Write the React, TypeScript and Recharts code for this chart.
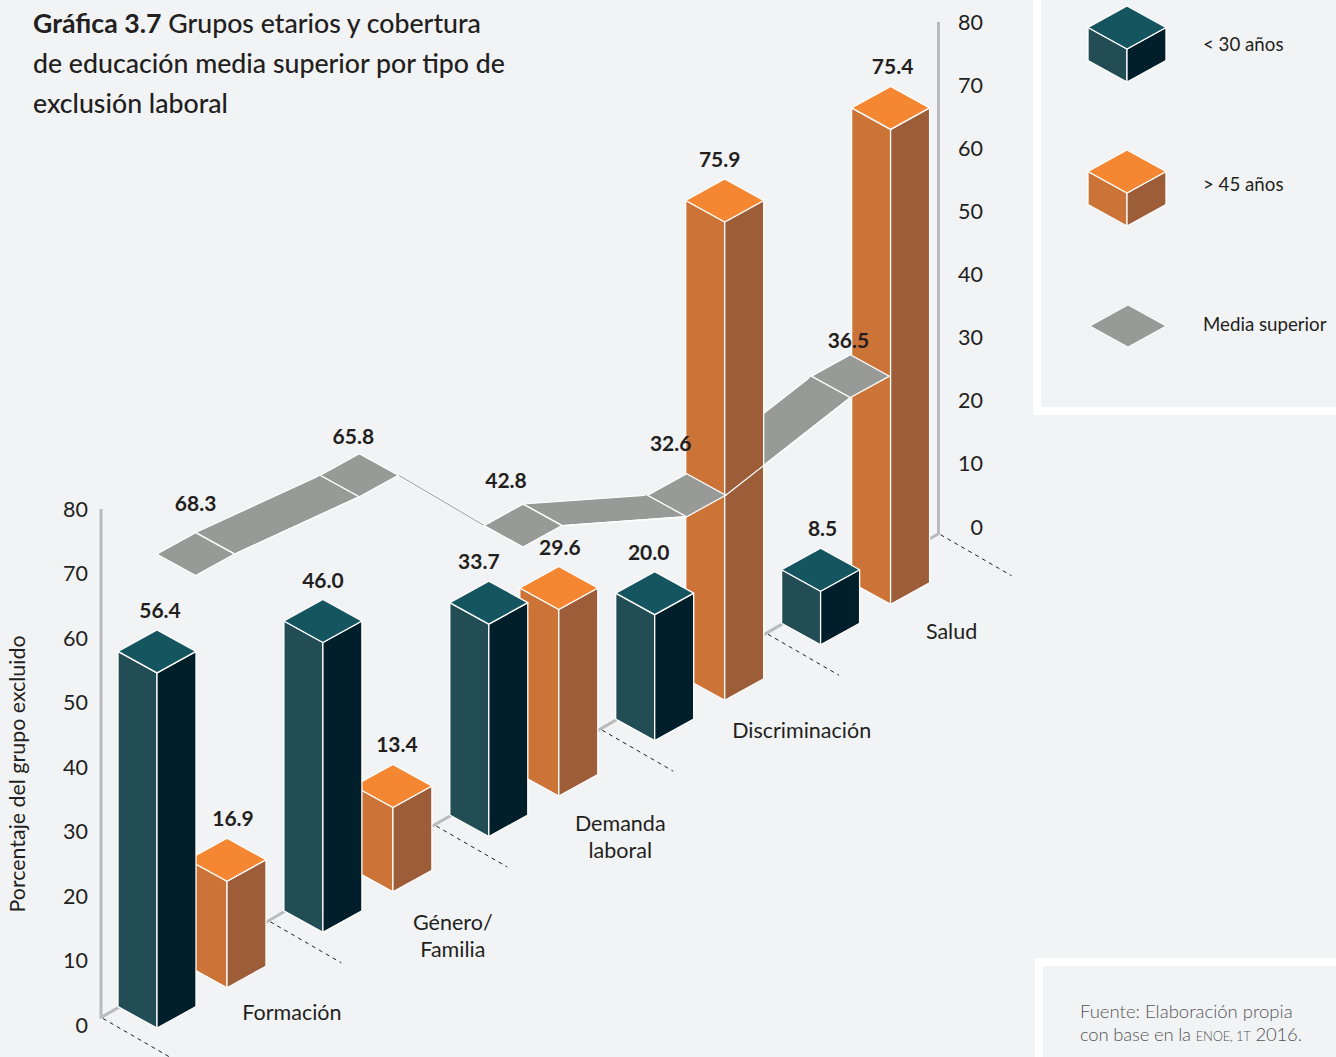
import React from "react";
import { ComposedChart, Bar, Line, XAxis, YAxis, ReferenceLine } from "recharts";

// values
const categories = ["Formación", "Género/ Familia", "Demanda laboral", "Discriminación", "Salud"];
const menores30 = [56.4, 46.0, 33.7, 20.0, 8.5];
const mayores45 = [16.9, 13.4, 29.6, 75.9, 75.4];
const mediaSuperior = [68.3, 65.8, 42.8, 32.6, 36.5];
const axisTicks = [0, 10, 20, 30, 40, 50, 60, 70, 80];

const chartData = categories.map((categoria, i) => ({
    categoria,
    menores30: menores30[i],
    mayores45: mayores45[i],
    mediaSuperior: mediaSuperior[i],
}));

const WIDTH = 1336;
const HEIGHT = 1057;
const PLOT_TOP = 22;
const PLOT_BOTTOM = 1025;
const PLOT_LEFT = 101;
const PLOT_RIGHT = 938.5;

// tile axis: band width once the padding is taken off
const TILE_PAD_LEFT = 12.75;
const TILE_PAD_RIGHT = 6.25;
const TILE_STEP = (PLOT_RIGHT - PLOT_LEFT - TILE_PAD_LEFT - TILE_PAD_RIGHT) / categories.length;

// isometric projection: the floor climbs to the right
const SLOPE = 0.5777;
const HALF_W = 39;
const RISE = 21.5;
const floorAt = (x: number) => 1027 - SLOPE * (x - 159);
const backAt = (x: number) => floorAt(x) - 2 * RISE;

const TEXT = "#231f20";
const FONT = "Lato, sans-serif";
const TEAL = { top: "#14555f", left: "#234d54", right: "#001f2a" };
const ORANGE = { top: "#f58733", left: "#cc7337", right: "#9d5d38" };
const GRAY = "#989a98";
const AXIS_GRAY = "#b9babb";

// small hand placement of the texts, as in the original layout
const tealLabelDx = [3, 0, -10, -6, 2];
const orangeLabelDx = [6, 4, 1, -5, 2];
const grayLabelDx = [0, -6, -17, -16, -2];
const grayLabelDy = [-8, 4, -2, -9, 7];
const tickLabelDx = [100, 95, 96.5, 112, 96];
const tickLabelDy = [63, 66, 63, 75, 62.5];

const pts = (list: number[][]) => list.map((p) => p.join(",")).join(" ");

type Faces = { top: string; left: string; right: string };

// one box: fx is the front edge, topY / bottomY its two ends
function Cube({ fx, topY, bottomY, colors }: { fx: number; topY: number; bottomY: number; colors: Faces }) {
    const line = { stroke: "#fff", strokeWidth: 1.3, strokeLinejoin: "round" as const };
    return (
        <g>
            <polygon points={pts([[fx - HALF_W, topY - RISE], [fx, topY], [fx, bottomY], [fx - HALF_W, bottomY - RISE]])} fill={colors.left} {...line} />
            <polygon points={pts([[fx + HALF_W, topY - RISE], [fx, topY], [fx, bottomY], [fx + HALF_W, bottomY - RISE]])} fill={colors.right} {...line} />
            <polygon points={pts([[fx, topY], [fx + HALF_W, topY - RISE], [fx, topY - 2 * RISE], [fx - HALF_W, topY - RISE]])} fill={colors.top} {...line} />
        </g>
    );
}

const cubeShape = (colors: Faces, dx: number, labelDx: number[]) => (props: any) => {
    const { x, width, height, value, index } = props;
    const fx = x + width / 2 + dx;
    const bottomY = floorAt(fx);
    const topY = bottomY - height;
    return (
        <g>
            <Cube fx={fx} topY={topY} bottomY={bottomY} colors={colors} />
            <text x={fx + labelDx[index]} y={topY - 2 * RISE - 12} textAnchor="middle" fontFamily={FONT} fontWeight={700} fontSize={21} fill={TEXT}>
                {Number(value).toFixed(1)}
            </text>
        </g>
    );
};

const tealShape = cubeShape(TEAL, -35, tealLabelDx);
const orangeShape = cubeShape(ORANGE, 35, orangeLabelDx);

// corners of the flat tile for a point of the gray series
const tile = (x: number, y: number) => {
    const cy = y + floorAt(x) - PLOT_BOTTOM - RISE;
    return {
        left: [x - HALF_W, cy],
        top: [x, cy - RISE],
        right: [x + HALF_W, cy],
        bottom: [x, cy + RISE],
    };
};

// ribbon between one tile and the next, behind the bars; the floor line goes under it
const ribbonShape = (props: any) => {
    const { x, y, width, height, value, index } = props;
    const nextValue = mediaSuperior[index + 1];
    const floorLine = index === 0 && (
        <line x1={PLOT_LEFT} y1={backAt(PLOT_LEFT)} x2={PLOT_RIGHT} y2={backAt(PLOT_RIGHT)} stroke={AXIS_GRAY} strokeWidth={3} />
    );
    if (nextValue === undefined) return <g />;
    const cx = x + width / 2;
    const pxPerUnit = height / value;
    const a = tile(cx, y);
    const b = tile(cx + TILE_STEP, y - (nextValue - value) * pxPerUnit);
    return (
        <g>
            {floorLine}
            <polygon points={pts([a.top, b.left, b.bottom, a.right])} fill={GRAY} stroke="#fff" strokeWidth={1.2} />
            <line x1={a.right[0]} y1={a.right[1]} x2={b.left[0]} y2={b.left[1]} stroke={GRAY} strokeWidth={1} />
        </g>
    );
};

// tile, value and the lower ribbon edge; these go in front of the bars
const tileDot = (props: any) => {
    const { index, points, key, value, cx, cy } = props;
    const t = tile(cx, cy);
    const next = points && points[index + 1];
    let edge = null;
    if (next) {
        const b = tile(next.x, next.y);
        const edgeOn = Math.abs((b.left[0] - t.top[0]) * (t.right[1] - t.top[1]) - (b.left[1] - t.top[1]) * (t.right[0] - t.top[0])) < 300;
        if (!edgeOn) {
            edge = <line x1={t.right[0]} y1={t.right[1]} x2={b.bottom[0]} y2={b.bottom[1]} stroke="#fff" strokeWidth={1.3} />;
        }
    }
    return (
        <g key={key ?? index}>
            {edge}
            <polygon points={pts([t.left, t.top, t.right, t.bottom])} fill={GRAY} stroke="#fff" strokeWidth={1.3} />
            <text x={t.top[0] + grayLabelDx[index]} y={t.top[1] - 14 + grayLabelDy[index]} textAnchor="middle" fontFamily={FONT} fontWeight={700} fontSize={21} fill={TEXT}>
                {Number(value ?? mediaSuperior[index]).toFixed(1)}
            </text>
        </g>
    );
};

const dashTo = (x: number, key: string) => (
    <line key={key} x1={x + 2} y1={backAt(x) + 1} x2={x + 73} y2={backAt(x) + 42} stroke={TEXT} strokeWidth={1} strokeDasharray="4 4" />
);

// category label and dashed guide
const CategoryTick = (props: any) => {
    const { x, index, payload } = props;
    const lx = x + tickLabelDx[index];
    const ly = floorAt(lx) + tickLabelDy[index];
    const lines = String(payload.value).split(" ");
    const start = index === 0 ? PLOT_LEFT : x - 83 - 6.5;
    return (
        <g>
            {dashTo(start, "a")}
            {index === categories.length - 1 && dashTo(PLOT_RIGHT, "b")}
            <text textAnchor="middle" fontFamily={FONT} fontSize={21.5} fill={TEXT}>
                {lines.map((l, i) => (
                    <tspan key={l} x={lx} y={ly + 7 + i * 27}>{l}</tspan>
                ))}
            </text>
        </g>
    );
};

const tickStyle = { fill: TEXT, fontSize: 21.5, fontFamily: FONT };

const AxisTitle = () => (
    <text transform="translate(25 774) rotate(-90)" textAnchor="middle" fontFamily={FONT} fontSize={21.4} fill={TEXT}>
        Porcentaje del grupo excluido
    </text>
);

function LegendPanel() {
    const label = { x: 1203, fontFamily: FONT, fontSize: 18.7, fill: TEXT };
    return (
        <svg width={WIDTH} height={HEIGHT} style={{ position: "absolute", left: 0, top: 0, pointerEvents: "none" }}>
            <Cube fx={1127} topY={49} bottomY={82} colors={TEAL} />
            <text {...label} y={51}>{"< 30 años"}</text>
            <Cube fx={1127} topY={193} bottomY={226} colors={ORANGE} />
            <text {...label} y={191}>{"> 45 años"}</text>
            <polygon points={pts([[1090, 326], [1128, 305], [1166, 326], [1128, 347]])} fill={GRAY} stroke="#fff" strokeWidth={1} />
            <text {...label} y={331}>Media superior</text>
        </svg>
    );
}

export default function App() {
    return (
        <div style={{ position: "absolute", left: 0, top: 0, width: WIDTH, height: HEIGHT, background: "#f2f3f5", overflow: "hidden", fontFamily: FONT }}>
            {/* white frames of the legend and source boxes */}
            <div style={{ position: "absolute", left: 1033, top: -10, width: 320, height: 409, border: "8px solid #fff" }} />
            <div style={{ position: "absolute", left: 1035, top: 958, width: 320, height: 120, border: "8px solid #fff" }} />

            <div style={{ position: "absolute", left: 33, top: 3, fontSize: 26.7, lineHeight: "40px", color: TEXT, fontWeight: 500, whiteSpace: "nowrap" }}>
                <b>Gráfica 3.7</b> Grupos etarios y cobertura
                <br />
                de educación media superior por tipo de
                <br />
                exclusión laboral
            </div>

            <ComposedChart
                width={WIDTH}
                height={HEIGHT}
                data={chartData}
                margin={{ top: PLOT_TOP, right: 0, bottom: HEIGHT - PLOT_BOTTOM - 1, left: 0 }}
                barGap={-78}
                barSize={78}
                style={{ position: "absolute", left: 0, top: 0 }}
            >
                <XAxis xAxisId="cat" dataKey="categoria" height={1} padding={{ left: 8, right: 0 }} axisLine={false} tickLine={false} interval={0} tick={CategoryTick} />
                <XAxis xAxisId="tiles" dataKey="categoria" hide padding={{ left: TILE_PAD_LEFT, right: TILE_PAD_RIGHT }} />
                <XAxis xAxisId="frame" type="number" domain={[0, 4]} allowDataOverflow hide />
                <YAxis
                    yAxisId="left"
                    width={PLOT_LEFT}
                    domain={[0, 155.5]}
                    allowDataOverflow
                    ticks={axisTicks}
                    interval={0}
                    axisLine={false}
                    tickLine={false}
                    tickMargin={7}
                    tick={tickStyle}
                    label={{ content: <AxisTitle /> }}
                />
                <YAxis
                    yAxisId="right"
                    orientation="right"
                    width={WIDTH - PLOT_RIGHT}
                    domain={[-78.9, 80]}
                    allowDataOverflow
                    ticks={axisTicks}
                    interval={0}
                    axisLine={false}
                    tickLine={false}
                    tickMargin={38.5}
                    tick={{ ...tickStyle, textAnchor: "end" }}
                />
                <YAxis yAxisId="bars" hide width={0} domain={[0, (PLOT_BOTTOM - PLOT_TOP) / 6.3]} />

                <ReferenceLine xAxisId="frame" yAxisId="left" ifOverflow="visible" stroke={AXIS_GRAY} strokeWidth={3} segment={[{ x: 0, y: 1 }, { x: 0, y: 80 }]} />
                <ReferenceLine xAxisId="frame" yAxisId="right" ifOverflow="visible" stroke={AXIS_GRAY} strokeWidth={3} segment={[{ x: 4, y: -1.2 }, { x: 4, y: 80 }]} />

                <Bar xAxisId="tiles" yAxisId="bars" dataKey="mediaSuperior" name="Media superior (cinta)" shape={ribbonShape} isAnimationActive={false} />
                <Bar xAxisId="cat" yAxisId="bars" dataKey="mayores45" name="> 45 años" shape={orangeShape} isAnimationActive={false} />
                <Bar xAxisId="cat" yAxisId="bars" dataKey="menores30" name="< 30 años" shape={tealShape} isAnimationActive={false} />
                <Line xAxisId="tiles" yAxisId="bars" dataKey="mediaSuperior" name="Media superior" stroke="none" dot={tileDot} activeDot={false} isAnimationActive={false} />
            </ComposedChart>

            <LegendPanel />

            <div style={{ position: "absolute", left: 1080, top: 1000, fontSize: 18.5, lineHeight: "23px", fontWeight: 300, color: "#555", whiteSpace: "nowrap" }}>
                Fuente: Elaboración propia
                <br />
                <span style={{ letterSpacing: -0.2 }}>
                    con base en la <span style={{ fontVariant: "all-small-caps" }}>ENOE, 1T</span> 2016.
                </span>
            </div>
        </div>
    );
}
